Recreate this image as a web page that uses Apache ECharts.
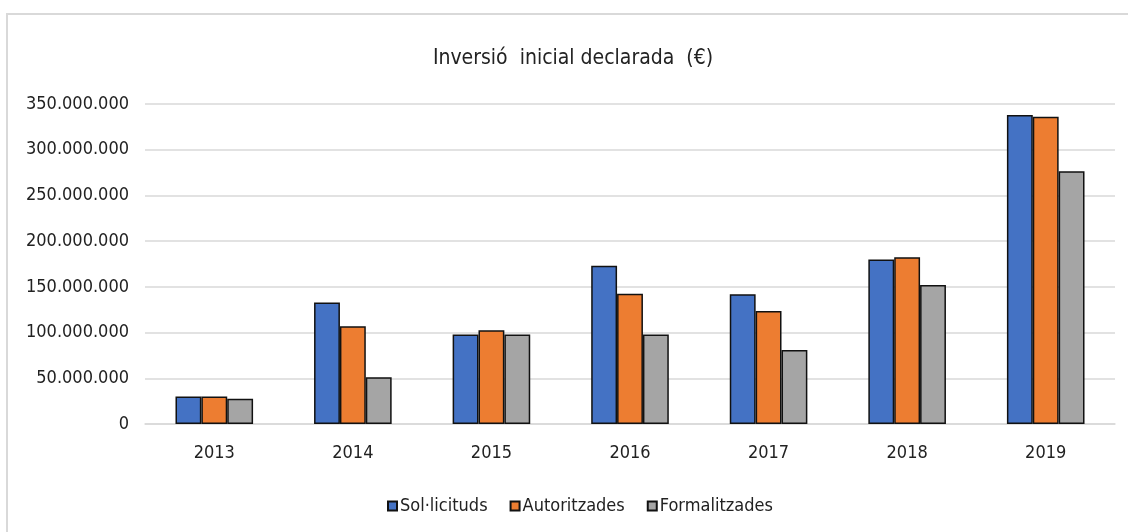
<!DOCTYPE html>
<html>
<head>
<meta charset="utf-8">
<script src="https://cdn.jsdelivr.net/npm/echarts@6/dist/echarts.min.js"></script>
<style>
  html, body { margin: 0; padding: 0; background: #fff; }
  #chart { width: 1128px; height: 532px; }
</style>
</head>
<body>
<div id="chart"></div>
<script>
// data (euros)
var years = ['2013', '2014', '2015', '2016', '2017', '2018', '2019'];
var solLicituds = [30000000, 133000000, 98000000, 173000000, 142000000, 180000000, 338000000];
var autoritzades = [30000000, 107000000, 102500000, 142500000, 123500000, 182500000, 336000000];
var formalitzades = [27500000, 51000000, 98000000, 98000000, 81000000, 152000000, 276500000];
var seriesNames = ['Sol·licituds', 'Autoritzades', 'Formalitzades'];
var colors = ['#4472c4', '#ed7d31', '#a5a5a5'];

var font = '"DejaVu Sans Condensed", "Liberation Sans", Arial, sans-serif';

function fmt(v) {
  return String(v).replace(/\B(?=(\d{3})+(?!\d))/g, '.');
}

var myChart = echarts.init(document.getElementById('chart'));

var allData = [solLicituds, autoritzades, formalitzades];
var series = [];
for (var i = 0; i < allData.length; i++) {
  series.push({
    name: seriesNames[i],
    type: 'bar',
    data: allData[i],
    barGap: '0%',
    barCategoryGap: '44%',
    itemStyle: { color: colors[i], borderColor: '#111', borderWidth: 1.5 }
  });
}

myChart.setOption({
  animation: false,
  color: colors,
  title: {
    text: 'Inversió  inicial declarada  (€)',
    left: 568,
    top: 43,
    textAlign: 'center',
    textStyle: { fontFamily: font, fontSize: 21, fontWeight: 'normal', color: '#222' }
  },
  graphic: [{
    type: 'rect',
    shape: { x: 7, y: 14, width: 1200, height: 600 },
    style: { fill: 'none', stroke: '#d9d9d9', lineWidth: 2 },
    silent: true
  }],
  legend: {
    bottom: 12,
    left: 382,
    itemWidth: 9,
    itemHeight: 9,
    itemGap: 22,
    icon: 'rect',
    textStyle: { fontFamily: font, fontSize: 18, color: '#222', padding: [0, 0, 0, -2] },
    data: seriesNames
  },
  grid: { left: 145, right: 13, top: 104, bottom: 108, containLabel: false },
  xAxis: {
    type: 'category',
    data: years,
    axisLine: { lineStyle: { color: '#d9d9d9', width: 1.5 } },
    axisTick: { show: false },
    axisLabel: { fontFamily: font, fontSize: 18, color: '#222', margin: 20 }
  },
  yAxis: {
    type: 'value',
    min: 0,
    max: 350000000,
    interval: 50000000,
    axisLine: { show: false },
    axisTick: { show: false },
    splitLine: { lineStyle: { color: '#d9d9d9', width: 1.5 } },
    axisLabel: { fontFamily: font, fontSize: 18, color: '#222', margin: 16, formatter: fmt }
  },
  series: series
});
</script>
</body>
</html>
